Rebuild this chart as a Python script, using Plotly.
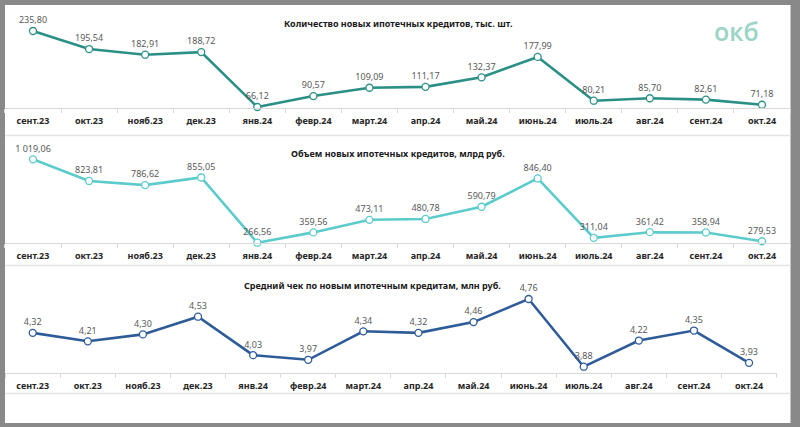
import plotly.graph_objects as go

W, H = 800, 427

categories = ["сент.23", "окт.23", "нояб.23", "дек.23", "янв.24", "февр.24", "март.24",
              "апр.24", "май.24", "июнь.24", "июль.24", "авг.24", "сент.24", "окт.24"]
count_values = [235.80, 195.54, 182.91, 188.72, 66.12, 90.57, 109.09, 111.17, 132.37,
                177.99, 80.21, 85.70, 82.61, 71.18]
volume_values = [1019.06, 823.81, 786.62, 855.05, 266.56, 359.56, 473.11, 480.78, 590.79,
                 846.40, 311.04, 361.42, 358.94, 279.53]
avg_values = [4.32, 4.21, 4.30, 4.53, 4.03, 3.97, 4.34, 4.32, 4.46, 4.76, 3.88, 4.22,
              4.35, 3.93]

titles = ["Количество новых ипотечных кредитов, тыс. шт.",
          "Объем новых ипотечных кредитов, млрд руб.",
          "Средний чек по новым ипотечным кредитам, млн руб."]
colors = ["#2A9086", "#5CCBCB", "#2E5C99"]


def fmt(v):
    return f"{v:,.2f}".replace(",", " ").replace(".", ",")


def py(px):
    return 1 - px / H


def px_(x):
    return x / W


FONT = "Noto Sans"

panels = [
    dict(vals=count_values, xd=(4.95, 790.0), yd=(14, 108), yr=(63.9, 273.8), ty=24, tx=398),
    dict(vals=volume_values, xd=(4.95, 790.0), yd=(145, 243.3), yr=(261.2, 1148.2), ty=154, tx=398),
    dict(vals=avg_values, xd=(5.15, 776.6), yd=(275, 372.7), yr=(3.802, 5.072), ty=285, tx=372),
]

fig = go.Figure()
layout = dict(
    width=W, height=H,
    margin=dict(l=0, r=0, t=0, b=0),
    paper_bgcolor="#898989",
    plot_bgcolor="rgba(0,0,0,0)",
    showlegend=False,
    font=dict(family=FONT, color="#404040"),
)

shapes = [
    dict(type="rect", xref="paper", yref="paper", x0=px_(5), x1=px_(790.5), y0=py(423), y1=py(5),
         fillcolor="white", line=dict(width=0), layer="below"),
]
for yy in (135.5, 265.5, 393.5):
    shapes.append(dict(type="line", xref="paper", yref="paper", x0=px_(5), x1=px_(790.5),
                       y0=py(yy), y1=py(yy), line=dict(color="#E3E3E3", width=1.5), layer="below"))

annotations = []
for i, p in enumerate(panels):
    n = "" if i == 0 else str(i + 1)
    xa, ya = "x" + n, "y" + n
    fig.add_trace(go.Scatter(
        x=categories, y=p["vals"], xaxis=xa, yaxis=ya,
        mode="lines+markers+text",
        line=dict(color=colors[i], width=2.6),
        marker=dict(size=7, color="white", line=dict(color=colors[i], width=1.3)),
        text=[fmt(v) for v in p["vals"]],
        textposition="top center",
        textfont=dict(size=9, color="#595959", family=FONT),
        cliponaxis=False,
        hoverinfo="skip",
    ))
    layout["xaxis" + n] = dict(
        domain=[px_(p["xd"][0]), px_(p["xd"][1])], anchor=ya,
        type="category", range=[-0.5, len(categories) - 0.5], autorange=False,
        showline=True, linecolor="#D9D9D9", linewidth=1,
        ticks="outside", tickson="boundaries", ticklen=4, tickcolor="#D9D9D9",
        ticklabelstandoff=4,
        showgrid=False, zeroline=False, fixedrange=True,
        tickfont=dict(size=9, color="#262626", family=FONT, weight="bold"),
    )
    layout["yaxis" + n] = dict(
        domain=[py(p["yd"][1]), py(p["yd"][0])], anchor=xa,
        range=list(p["yr"]), autorange=False, visible=False, showgrid=False,
        zeroline=False, fixedrange=True,
    )
    annotations.append(dict(
        text=titles[i], xref="paper", yref="paper", x=px_(p["tx"]), y=py(p["ty"]),
        xanchor="center", yanchor="middle", showarrow=False,
        font=dict(size=9, color="#1a1a1a", family=FONT, weight="bold"),
    ))

annotations.append(dict(
    text="окб", xref="paper", yref="paper", x=px_(736), y=py(31),
    xanchor="center", yanchor="middle", showarrow=False,
    font=dict(size=25, color="#9AD4C4", family="Open Sans", weight=600),
))

layout["shapes"] = shapes
layout["annotations"] = annotations
fig.update_layout(**layout)
fig.write_html("out.html", config={"displayModeBar": False, "staticPlot": True},
               post_script="document.body.style.margin='0';")
